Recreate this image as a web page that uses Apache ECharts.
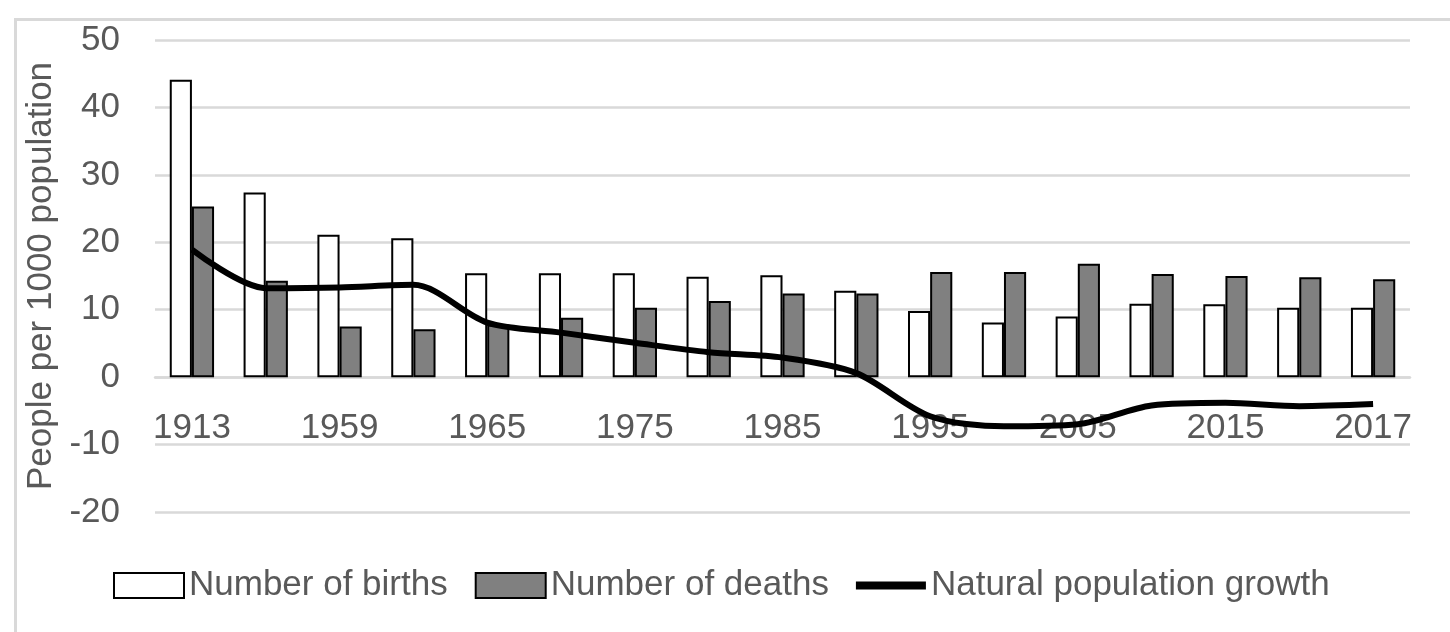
<!DOCTYPE html>
<html>
<head>
<meta charset="utf-8">
<script src="https://cdn.jsdelivr.net/npm/echarts@6/dist/echarts.min.js"></script>
<style>html,body{margin:0;padding:0;background:#fff}#c{width:1450px;height:632px}</style>
</head>
<body>
<div id="c"></div>
<script>
const years = ['1913','1940','1959','1960','1965','1970','1975','1980','1985','1990','1995','2000','2005','2010','2015','2016','2017'];
const births = [44.1, 27.4, 21.1, 20.6, 15.4, 15.4, 15.4, 14.9, 15.1, 12.8, 9.8, 8.1, 9.0, 10.9, 10.8, 10.3, 10.3];
const deaths = [25.3, 14.3, 7.5, 7.1, 7.8, 8.8, 10.3, 11.3, 12.4, 12.4, 15.6, 15.6, 16.8, 15.3, 15.0, 14.8, 14.5];
const growth = [18.9, 13.2, 13.3, 13.7, 8.1, 6.6, 5.1, 3.7, 2.9, 0.6, -5.8, -7.3, -7.0, -4.2, -3.8, -4.3, -4.0];
const yTicks = {min: -20, max: 50, interval: 10};

const FONT = 'Liberation Sans';
const GREY = '#595959';
const chart = echarts.init(document.getElementById('c'));
chart.setOption({
  animation: false,
  textStyle: {fontFamily: FONT},
  graphic: [{
    type: 'rect', left: 13, top: 17, silent: true,
    shape: {width: 1500, height: 700},
    style: {fill: 'none', stroke: '#d9d9d9', lineWidth: 3}
  }],
  grid: {left: 155, right: 40, top: 40, bottom: 120, containLabel: false},
  legend: {
    left: 113, top: 568, padding: 0, itemWidth: 70, itemHeight: 25, itemGap: 27,
    textStyle: {fontFamily: FONT, fontSize: 35, color: GREY},
    data: [
      {name: 'Number of births', icon: 'rect'},
      {name: 'Number of deaths', icon: 'rect'},
      {name: 'Natural population growth', icon: 'path://M0,0 L70,0 L70,8 L0,8 Z', itemStyle: {color: '#000', borderWidth: 0}}
    ]
  },
  xAxis: {
    type: 'category', data: years,
    axisLine: {show: true, onZero: true, lineStyle: {color: '#d9d9d9', width: 2.5}},
    axisTick: {show: false},
    axisLabel: {interval: 1, margin: -101, fontSize: 35, color: GREY, fontFamily: FONT}
  },
  yAxis: {
    type: 'value', min: yTicks.min, max: yTicks.max, interval: yTicks.interval,
    name: 'People per 1000 population', nameLocation: 'middle', nameGap: 90,
    nameTextStyle: {fontSize: 35, color: GREY, fontFamily: FONT},
    axisLine: {show: false}, axisTick: {show: false},
    axisLabel: {margin: 35, fontSize: 35, color: GREY, fontFamily: FONT},
    splitLine: {lineStyle: {color: '#d9d9d9', width: 2.5}}
  },
  series: [
    {name: 'Number of births', type: 'bar', data: births, barGap: '0%', barCategoryGap: '40%',
     itemStyle: {color: '#ffffff', borderColor: '#000', borderWidth: 2}},
    {name: 'Number of deaths', type: 'bar', data: deaths,
     itemStyle: {color: '#808080', borderColor: '#000', borderWidth: 2}},
    {name: 'Natural population growth', type: 'line', data: growth, smooth: 0.3,
     symbol: 'none', z: 5,
     lineStyle: {color: '#000', width: 6}, itemStyle: {color: '#000'}}
  ]
});
</script>
</body>
</html>
